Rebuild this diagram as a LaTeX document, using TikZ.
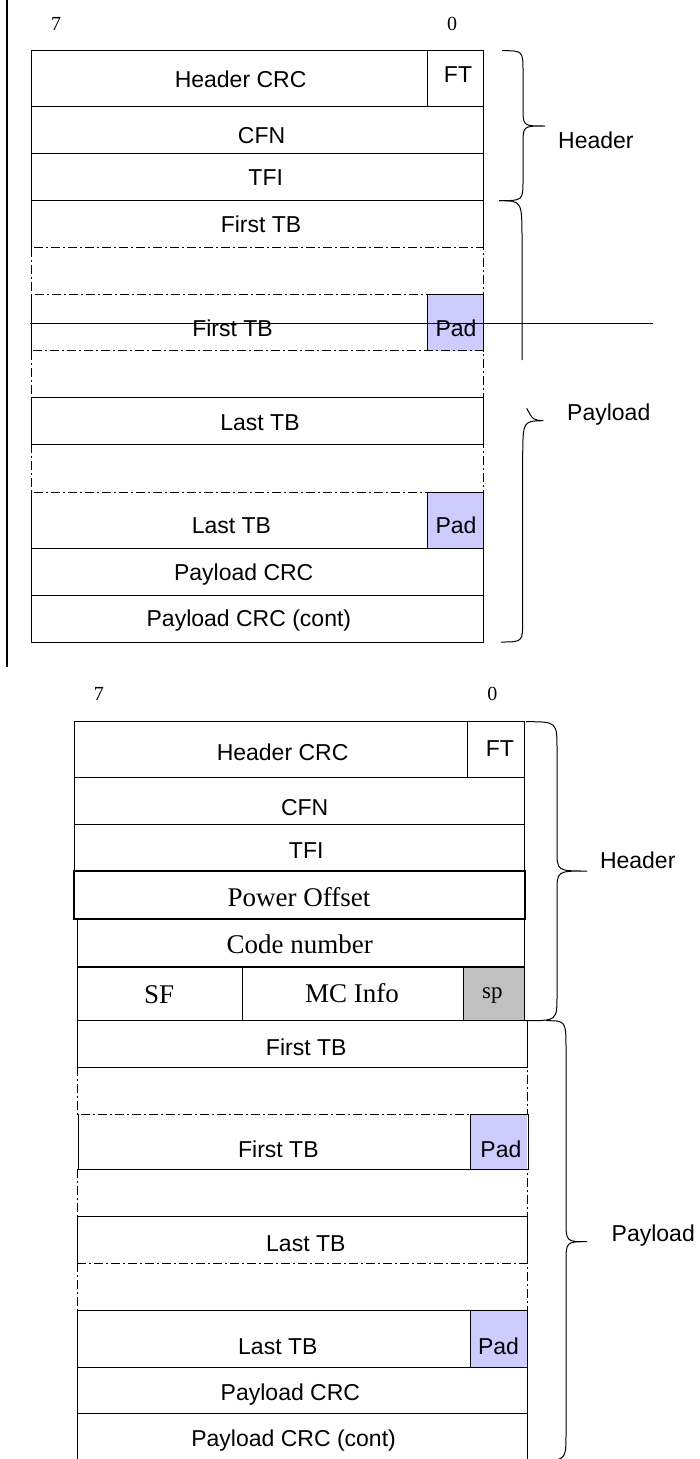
\documentclass[tikz,border=0pt]{standalone}
\usepackage{fontspec}
\setmainfont{Liberation Serif}
\newfontfamily\arialfont{Liberation Sans}
\definecolor{padblue}{HTML}{CCCCFF}
\definecolor{spgray}{HTML}{C0C0C0}
\tikzset{
ar/.style={font=\arialfont\fontsize{23}{27}\selectfont,anchor=base,inner sep=0pt},
lbl/.style={ar,anchor=base west},
tr/.style={font=\fontsize{27}{32}\selectfont,anchor=base,inner sep=0pt},
bit/.style={font=\fontsize{20}{24}\selectfont,anchor=base,inner sep=0pt},
ln/.style={line width=1pt},
ddot/.style={line width=1pt,dash pattern=on 9pt off 3pt on 2pt off 3pt}
}
\begin{document}
\begin{tikzpicture}[x=1pt,y=-1pt]
\newcommand\topL{31}
\newcommand\topR{483}
\newcommand\topP{427}
\newcommand\botL{77}
\newcommand\botR{527}
\newcommand\botP{470}
\clip (0,0) rectangle (700,1459);

% upper frame
\draw[line width=1.6pt] (7,0) -- (7,667);
\foreach \ya/\yb in {294.7/350.7, 492/548}{
\fill[padblue] (\topP,\ya) rectangle (\topR,\yb);
}
\foreach \ya/\yb in {247.7/294.7, 350.7/397, 444/492}{
\draw[ddot] (\topL,\ya) rectangle (\topR,\yb);
}
\foreach \ya/\yb in {50.7/106.7, 106.7/153.7, 153.7/200.7, 397/444, 548/595, 595/642}{
\draw[ln] (\topL,\ya) rectangle (\topR,\yb);
}
\draw[ln] (\topP,50.7) -- (\topP,106.7);
\draw[ln] (\topL,247.7) -- (\topL,200.7) -- (\topR,200.7) -- (\topR,247.7);
\draw[ln] (\topL,294.7) -- (\topL,350.7);
\draw[ln] (\topP,350.7) -- (\topP,294.7) -- (\topR,294.7) -- (\topR,350.7);
\draw[ln] (\topL,492) -- (\topL,548);
\draw[ln] (\topP,492) rectangle (\topR,548);

\draw (56,30) node[bit] (hiA) {7};
\draw (452,30) node[bit] (loA) {0};
\draw (240.6,87.3) node[ar] (hcrcA) {Header CRC};
\draw (458,82.7) node[ar] (ftA) {FT};
\draw (261.6,143.3) node[ar] (cfnA) {CFN};
\draw (265.7,185.7) node[ar] (tfiA) {TFI};
\draw (261,232.7) node[ar] (tbaA) {First TB};
\draw (232.5,336) node[ar] (tbbA) {First TB};
\draw (456,336) node[ar] (padaA) {Pad};
\draw (260,430) node[ar] (tbcA) {Last TB};
\draw (231.4,533.3) node[ar] (tbdA) {Last TB};
\draw (456,533.3) node[ar] (padbA) {Pad};
\draw (243.7,580) node[ar] (pcrcA) {Payload CRC};
\draw (248.9,626.7) node[ar] (pcrcbA) {Payload CRC (cont)};
\draw (558,148.3) node[lbl] (hdrA) {Header};
\draw (567,420.7) node[lbl] (plA) {Payload};

\draw[line width=1.4pt] (30,323.3) -- (653,323.3);

% braces
\draw[ln] (502,50.7) .. controls (523,50.7) .. (523,72) -- (523,108) .. controls (523,126) .. (545,126) .. controls (523,126) .. (523,144) -- (523,180) .. controls (523,200.7) .. (499,200.7);
\draw[ln] (499,200.7) .. controls (522,200.7) .. (522,240) -- (522,360);
\draw[ln] (526.7,408.3) .. controls (533,420) .. (543.3,420.7) .. controls (523,421) .. (522.7,456) -- (522.7,620) .. controls (522.7,642) .. (501,642);

% lower frame
\foreach \ya/\yb in {1114.3/1169.3, 1310.7/1367.3}{
\fill[padblue] (\botP,\ya) rectangle (\botR,\yb);
}
\fill[spgray] (463,966.7) rectangle (524,1020.7);
\foreach \ya/\yb in {1067.3/1114.3, 1169.3/1216.7, 1263.3/1310.7}{
\draw[ddot] (\botL,\ya) rectangle (\botR,\yb);
}
\foreach \ya/\yb in {721.7/777.7, 777.7/824.3, 824.3/871}{
\draw[ln] (74,\ya) rectangle (524,\yb);
}
\draw[ln] (467,721.7) -- (467,777.7);
\draw[line width=1.8pt] (74,871) rectangle (525.3,919.3);
\draw[ln] (\botL,919.3) rectangle (524.5,966.7);
\draw[ln] (\botL,966.7) rectangle (524,1020.7);
\draw[ln] (242.4,966.7) -- (242.4,1020.7);
\draw[ln] (463,966.7) -- (463,1020.7);
\draw[line width=1.8pt] (\botL,966.7) -- (524.5,966.7);
\foreach \ya/\yb in {1020.7/1067.3, 1310.7/1367.3, 1367.3/1413.3, 1413.3/1461}{
\draw[ln] (\botL,\ya) rectangle (\botR,\yb);
}
\draw[ln] (78.7,1114.3) -- (78.7,1169.3) -- (528.2,1169.3) -- (528.2,1114.3) -- (\botP,1114.3) -- (\botP,1169.3);
\draw[ln] (\botL,1263.3) -- (\botL,1216.7) -- (\botR,1216.7) -- (\botR,1263.3);
\draw[ln] (\botP,1310.7) -- (\botP,1367.3);

\draw (98.9,700) node[bit] (hiB) {7};
\draw (492.4,700) node[bit] (loB) {0};
\draw (282.6,760) node[ar] (hcrcB) {Header CRC};
\draw (499.8,756) node[ar] (ftB) {FT};
\draw (304.7,815) node[ar] (cfnB) {CFN};
\draw (306.2,858.3) node[ar] (tfiB) {TFI};
\draw (299,906) node[tr] (pwrB) {Power Offset};
\draw (299.7,953.3) node[tr] (codeB) {Code number};
\draw (159.1,1003.3) node[tr] (sfB) {SF};
\draw (352,1002.7) node[tr] (mcB) {MC Info};
\draw (492.4,998.3) node[tr,font=\fontsize{23}{27}\selectfont] (spB) {sp};
\draw (306.2,1055) node[ar] (tbaB) {First TB};
\draw (278.4,1157.7) node[ar] (tbbB) {First TB};
\draw (500.9,1157.7) node[ar] (padaB) {Pad};
\draw (305.8,1251.7) node[ar] (tbcB) {Last TB};
\draw (277.8,1354.3) node[ar] (tbdB) {Last TB};
\draw (498.5,1354.3) node[ar] (padbB) {Pad};
\draw (290.4,1400.7) node[ar] (pcrcB) {Payload CRC};
\draw (293.6,1446.7) node[ar] (pcrcbB) {Payload CRC (cont)};
\draw (599.8,868.3) node[lbl] (hdrB) {Header};
\draw (611.5,1241.7) node[lbl] (plB) {Payload};

\draw[ln] (526,721.7) .. controls (557,721.7) .. (557,750) -- (557,850) .. controls (557,871) .. (587,871) .. controls (557,871) .. (557,892) -- (557,995) .. controls (557,1020.7) .. (526,1020.7);
\draw[ln] (546,1020.7) .. controls (566,1020.7) .. (566,1050) -- (566,1220) .. controls (566,1241.7) .. (587,1241.7) .. controls (566,1241.7) .. (566,1263) -- (566,1432) .. controls (566,1458) .. (549,1462);
\end{tikzpicture}
\end{document}
